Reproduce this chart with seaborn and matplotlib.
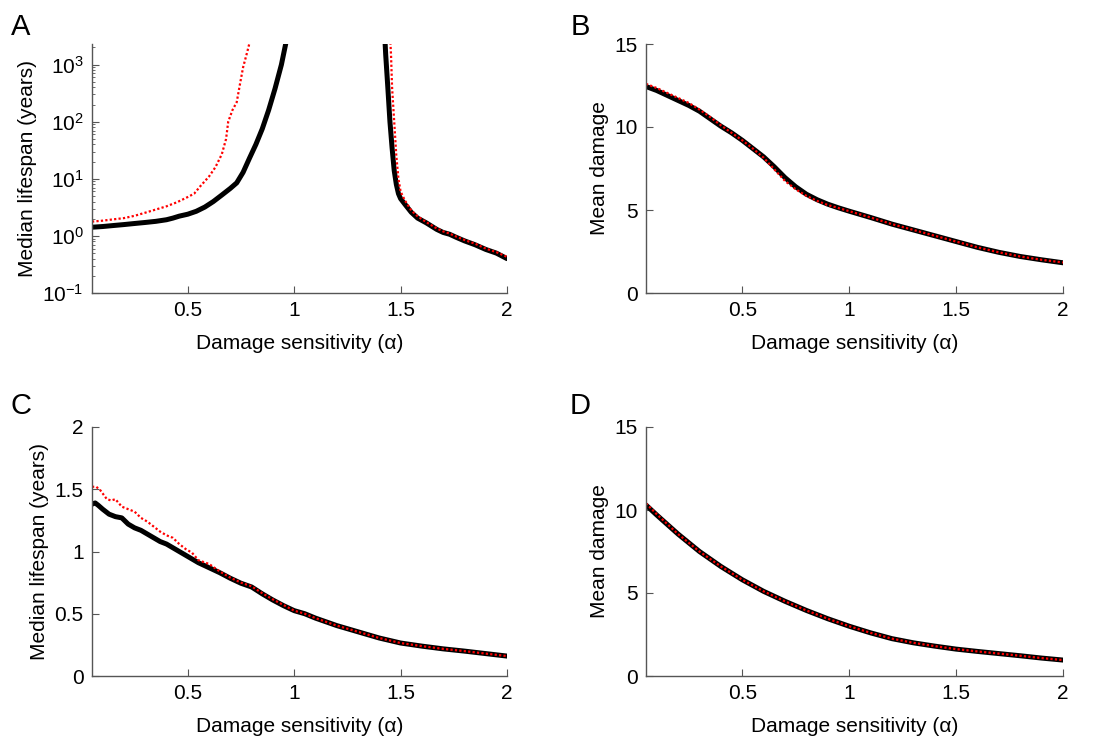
import numpy as np
import pandas as pd
import matplotlib
matplotlib.use("Agg")
import matplotlib.pyplot as plt
import seaborn as sns
from matplotlib.ticker import LogLocator, NullFormatter

# ---------------- data ----------------
# Panel A: median lifespan (log scale), two branches per series
a_blk_left_x = [0.05, 0.10, 0.15, 0.20, 0.25, 0.30, 0.35, 0.40, 0.43, 0.46, 0.50, 0.54, 0.58,
                0.62, 0.66, 0.70, 0.73, 0.76, 0.79, 0.82, 0.85, 0.88, 0.91, 0.94, 0.96, 0.97]
a_blk_left_y = [1.42, 1.46, 1.52, 1.58, 1.65, 1.72, 1.80, 1.92, 2.05, 2.22, 2.4, 2.7, 3.2,
                4.0, 5.2, 6.8, 8.5, 13, 23, 40, 75, 160, 380, 1000, 2300, 3500]
a_red_left_x = [0.05, 0.10, 0.15, 0.20, 0.25, 0.30, 0.35, 0.40, 0.45, 0.50, 0.53, 0.56, 0.60,
                0.63, 0.66, 0.68, 0.69, 0.71, 0.73, 0.745, 0.76, 0.78, 0.79, 0.80]
a_red_left_y = [1.78, 1.85, 1.95, 2.05, 2.25, 2.55, 2.9, 3.3, 3.9, 4.8, 5.5, 7.5, 11,
                16, 27, 50, 100, 160, 220, 450, 900, 1700, 2400, 3500]
a_blk_right_x = [1.425, 1.43, 1.44, 1.45, 1.46, 1.47, 1.48, 1.49, 1.50, 1.52, 1.55, 1.58, 1.62,
                 1.67, 1.70, 1.73, 1.76, 1.80, 1.85, 1.90, 1.95, 2.0]
a_blk_right_y = [3500, 1500, 400, 100, 35, 14, 8, 5.5, 4.5, 3.6, 2.6, 2.05, 1.7,
                 1.3, 1.15, 1.07, 0.95, 0.82, 0.7, 0.58, 0.5, 0.4]
a_red_right_x = [1.45, 1.455, 1.46, 1.47, 1.48, 1.49, 1.50, 1.52, 1.55, 1.58, 1.62,
                 1.67, 1.70, 1.73, 1.76, 1.80, 1.85, 1.90, 1.95, 2.0]
a_red_right_y = [3500, 1500, 400, 100, 25, 10, 6, 4.2, 2.8, 2.2, 1.75,
                 1.35, 1.2, 1.1, 0.98, 0.85, 0.73, 0.6, 0.52, 0.43]

# Panel B: mean damage
b_x = [0.05, 0.10, 0.15, 0.20, 0.25, 0.30, 0.35, 0.40, 0.45, 0.50, 0.55, 0.60, 0.65, 0.70,
       0.75, 0.80, 0.85, 0.90, 0.95, 1.0, 1.1, 1.2, 1.3, 1.4, 1.5, 1.6, 1.7, 1.8, 1.9, 2.0]
b_blk = [12.44, 12.2, 11.9, 11.6, 11.3, 10.95, 10.5, 10.05, 9.65, 9.2, 8.7, 8.2, 7.6, 6.95,
         6.4, 5.95, 5.62, 5.35, 5.13, 4.93, 4.55, 4.15, 3.8, 3.45, 3.1, 2.75, 2.45, 2.2, 2.0, 1.82]
b_red = [12.6, 12.35, 12.05, 11.75, 11.45, 11.05, 10.6, 10.1, 9.65, 9.2, 8.7, 8.15, 7.45, 6.75,
         6.25, 5.85, 5.55, 5.3, 5.12, 4.93, 4.55, 4.15, 3.8, 3.45, 3.1, 2.75, 2.45, 2.2, 2.0, 1.84]

# Panel C: median lifespan (linear scale)
c_blk_x = [0.05, 0.065, 0.08, 0.10, 0.13, 0.16, 0.19, 0.22, 0.25, 0.28, 0.31, 0.34, 0.37, 0.40,
           0.43, 0.46, 0.50, 0.55, 0.60, 0.65, 0.70, 0.75, 0.80, 0.85, 0.90, 0.95, 1.0, 1.05,
           1.1, 1.2, 1.3, 1.4, 1.5, 1.6, 1.7, 1.8, 1.9, 2.0]
c_blk_y = [1.38, 1.39, 1.37, 1.34, 1.30, 1.28, 1.27, 1.22, 1.19, 1.17, 1.14, 1.11, 1.08, 1.06,
           1.03, 1.00, 0.96, 0.91, 0.87, 0.83, 0.785, 0.745, 0.715, 0.66, 0.61, 0.565, 0.525, 0.50,
           0.465, 0.405, 0.355, 0.305, 0.265, 0.24, 0.218, 0.20, 0.18, 0.16]
c_red_x = [0.05, 0.07, 0.09, 0.12, 0.14, 0.16, 0.19, 0.22, 0.25, 0.28, 0.31, 0.34, 0.37, 0.40,
           0.43, 0.46, 0.49, 0.52, 0.55, 0.60, 0.65, 0.70, 0.75, 0.80, 0.85, 0.90, 0.95, 1.0,
           1.05, 1.1, 1.2, 1.3, 1.4, 1.5, 1.6, 1.7, 1.8, 1.9, 2.0]
c_red_y = [1.52, 1.52, 1.49, 1.42, 1.41, 1.42, 1.36, 1.34, 1.32, 1.27, 1.24, 1.20, 1.16, 1.13,
           1.11, 1.06, 1.02, 0.99, 0.93, 0.90, 0.84, 0.79, 0.75, 0.72, 0.665, 0.615, 0.57, 0.525,
           0.50, 0.465, 0.405, 0.355, 0.305, 0.265, 0.24, 0.218, 0.20, 0.18, 0.16]

# Panel D: mean damage
d_x = [0.05, 0.10, 0.20, 0.30, 0.40, 0.50, 0.60, 0.70, 0.80, 0.90, 1.0,
       1.1, 1.2, 1.3, 1.4, 1.5, 1.6, 1.7, 1.8, 1.9, 2.0]
d_blk = [10.3, 9.7, 8.55, 7.5, 6.6, 5.8, 5.1, 4.5, 3.95, 3.45, 3.0,
         2.6, 2.25, 2.0, 1.8, 1.62, 1.48, 1.35, 1.22, 1.08, 0.96]
d_red = [10.4, 9.75, 8.55, 7.5, 6.6, 5.8, 5.1, 4.5, 3.95, 3.45, 3.0,
         2.6, 2.25, 2.0, 1.8, 1.62, 1.48, 1.35, 1.22, 1.08, 0.96]

xlabel = "Damage sensitivity (\u03b1)"
panel_letters = ["A", "B", "C", "D"]

# ---------------- style ----------------
sns.set_theme(style="white")
plt.rcParams["font.family"] = ["Liberation Sans", "DejaVu Sans"]
plt.rcParams["mathtext.fontset"] = "custom"
plt.rcParams["mathtext.rm"] = "Liberation Sans"
plt.rcParams["mathtext.it"] = "Liberation Sans"
plt.rcParams["mathtext.default"] = "regular"
plt.rcParams["axes.unicode_minus"] = False
plt.rcParams["text.color"] = "black"
plt.rcParams["axes.labelcolor"] = "black"
plt.rcParams["xtick.labelcolor"] = "black"
plt.rcParams["ytick.labelcolor"] = "black"

FS = 15
fig = plt.figure(figsize=(11.04, 7.46), dpi=100)

W, H = 1104, 746
def rect(l, r, t, b):
    return [l / W, (H - b) / H, (r - l) / W, (b - t) / H]

axA = fig.add_axes(rect(92, 507, 44, 293))
axB = fig.add_axes(rect(646, 1063, 44, 293))
axC = fig.add_axes(rect(92, 507, 427, 676))
axD = fig.add_axes(rect(646, 1063, 427, 676))

BLK = dict(color="black", linewidth=3.6, estimator=None, sort=False)
RED = dict(color="red", linewidth=1.6, estimator=None, sort=False, linestyle=(0, (1, 1)))

def draw(ax, x, y, kw):
    df = pd.DataFrame({"x": x, "y": y})
    sns.lineplot(data=df, x="x", y="y", ax=ax, legend=False, **kw)

# A
axA.set_yscale("log")
draw(axA, a_blk_left_x, a_blk_left_y, BLK)
draw(axA, a_blk_right_x, a_blk_right_y, BLK)
draw(axA, a_red_left_x, a_red_left_y, RED)
draw(axA, a_red_right_x, a_red_right_y, RED)
axA.set_ylim(0.1, 2300)
axA.yaxis.set_major_locator(LogLocator(base=10, numticks=10))
axA.yaxis.set_minor_locator(LogLocator(base=10, subs=np.arange(2, 10), numticks=20))
axA.yaxis.set_minor_formatter(NullFormatter())
axA.set_ylabel("Median lifespan (years)", fontsize=FS)

# B
draw(axB, b_x, b_blk, BLK)
draw(axB, b_x, b_red, RED)
axB.set_ylim(0, 15)
axB.set_yticks([0, 5, 10, 15])
axB.set_ylabel("Mean damage", fontsize=FS)

# C
draw(axC, c_blk_x, c_blk_y, BLK)
draw(axC, c_red_x, c_red_y, RED)
axC.set_ylim(0, 2)
axC.set_yticks([0, 0.5, 1, 1.5, 2])
axC.set_yticklabels(["0", "0.5", "1", "1.5", "2"])
axC.set_ylabel("Median lifespan (years)", fontsize=FS)

# D
draw(axD, d_x, d_blk, BLK)
draw(axD, d_x, d_red, RED)
axD.set_ylim(0, 15)
axD.set_yticks([0, 5, 10, 15])
axD.set_ylabel("Mean damage", fontsize=FS)

for ax in [axA, axB, axC, axD]:
    ax.set_xlim(0.05, 2)
    ax.set_xticks([0.5, 1, 1.5, 2])
    ax.set_xticklabels(["0.5", "1", "1.5", "2"])
    ax.set_xlabel(xlabel, fontsize=FS, labelpad=10, color="black")
    ax.yaxis.label.set_color("black")
    for s in ["top", "right"]:
        ax.spines[s].set_visible(False)
    for s in ["left", "bottom"]:
        ax.spines[s].set_color("#555555")
        ax.spines[s].set_linewidth(1.0)
    ax.tick_params(axis="both", which="major", direction="in", length=5, width=0.8,
                   color="#555555", labelcolor="black", labelsize=FS, pad=6,
                   left=True, bottom=True)
    ax.tick_params(axis="both", which="minor", direction="in", length=2.5, width=0.6,
                   color="#555555", left=True)

# panel letters (pixel positions of the baseline)
letter_pos = [(11, 35), (571, 35), (11, 414), (570, 414)]
for letter, (px, py) in zip(panel_letters, letter_pos):
    fig.text(px / W, 1 - py / H, letter, fontsize=21, ha="left", va="baseline", color="black")

fig.savefig("out.png", dpi=100)
